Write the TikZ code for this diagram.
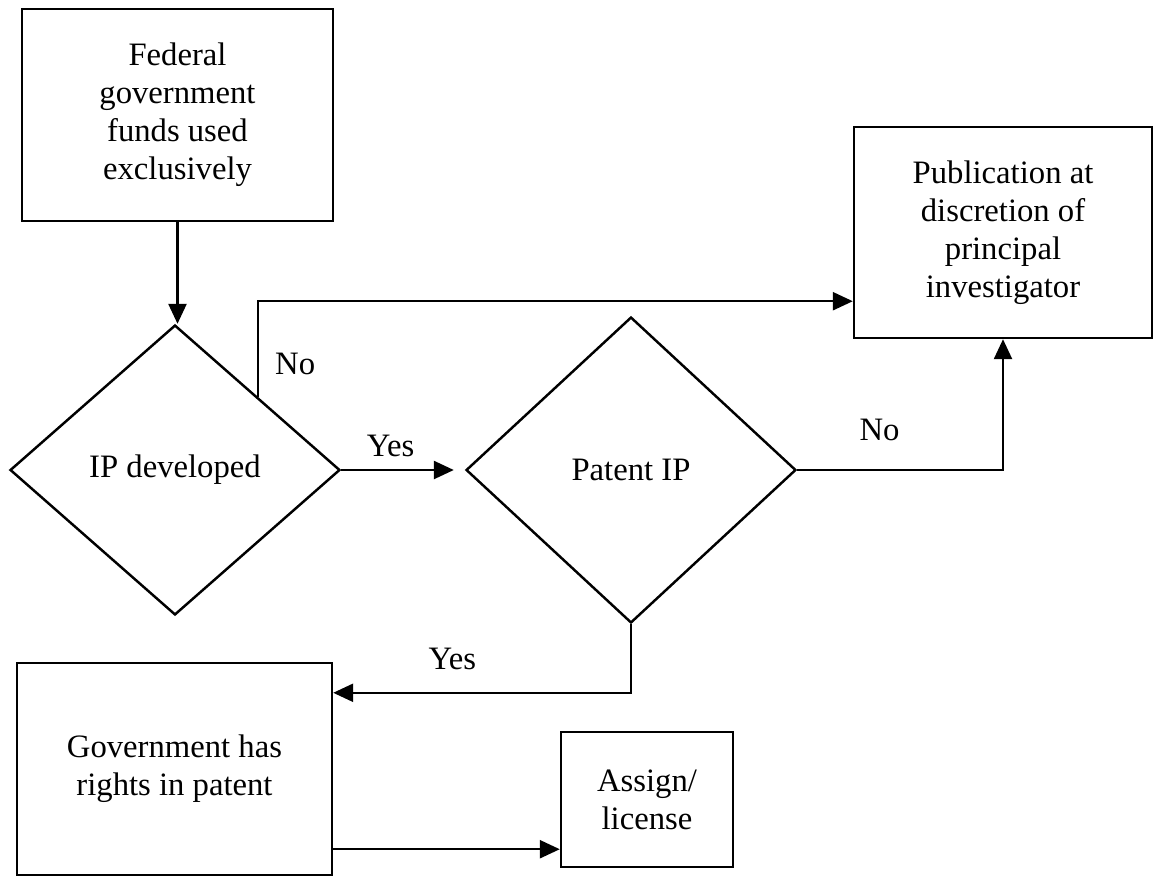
\documentclass[tikz,border=0pt]{standalone}
\usepackage{fontspec}
\setmainfont{Liberation Serif}
\usetikzlibrary{shapes.geometric,arrows.meta}

\begin{document}
\begin{tikzpicture}[x=0.02cm,y=-0.02cm,
	font=\fontsize{18.6}{21.6}\selectfont,
	line width=1.4pt,
	>={Triangle[length=0.4cm,width=0.36cm]},
	box/.style={shape=rectangle,draw=black,align=center,inner sep=0pt},
	decision/.style={shape=diamond,draw=black,inner sep=0pt,minimum width=6.6cm}]
	\useasboundingbox (0,0) rectangle (1156,876);

	\node[box,minimum width=6.22cm,minimum height=4.24cm] (fed)    at (177.5,115) {Federal\\government\\funds used\\exclusively};
	\node[decision,minimum height=5.8cm]                   (ipdev)  at (175,470)   {IP developed};
	\node[decision,minimum height=6.12cm]                  (patent) at (631,470)   {Patent IP};
	\node[box,minimum width=5.96cm,minimum height=4.22cm] (pub)    at (1003,232.5) {Publication at\\discretion of\\principal\\investigator};
	\node[box,minimum width=6.3cm,minimum height=4.24cm]  (govt)   at (174.5,769) {Government has\\rights in patent};
	\node[box,minimum width=3.44cm,minimum height=2.7cm]  (assign) at (647,799.5) {Assign/\\license};
	\coordinate (out) at ([yshift=0.54cm]govt.south east);

	\path[->] (fed.south) edge (fed.south |- ipdev.north);
	\path[->] (ipdev.east) edge[shorten >=0.22cm] node[pos=0.4,above=0.13cm]{Yes} (patent.west);
	\draw[->] (ipdev.north east) |- node[pos=0.17,right=0.2cm]{No} ([yshift=0.76cm]pub.south west);
	\draw[->] (patent.east) -| node[pos=0.2,above=0.45cm]{No} (pub.south);
	\draw[->] (patent.south) |- node[pos=0.8,above=0.31cm]{Yes} ([yshift=-0.62cm]govt.north east);
	\draw[->] (out) -- (out -| assign.west);
\end{tikzpicture}
\end{document}
